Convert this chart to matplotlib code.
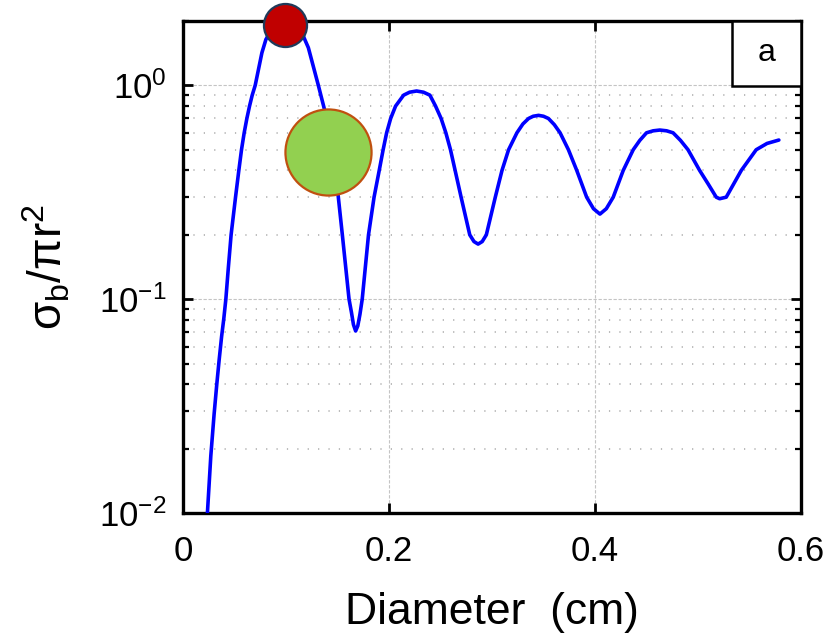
import numpy as np
import matplotlib
matplotlib.use("Agg")
import matplotlib.pyplot as plt
from matplotlib.patches import Rectangle
from matplotlib.ticker import FixedLocator, NullLocator, FixedFormatter, LogLocator

plt.rcParams['font.family'] = ['Liberation Sans', 'DejaVu Sans']
plt.rcParams['mathtext.fontset'] = 'custom'
plt.rcParams['mathtext.rm'] = 'Liberation Sans'
plt.rcParams['mathtext.it'] = 'Liberation Sans:italic'
plt.rcParams['mathtext.bf'] = 'Liberation Sans:bold'

# Backscatter curve (diameter in cm, sigma_b / pi r^2)
diameter = [0.0237, 0.0270, 0.0302, 0.0328, 0.0351, 0.0375, 0.0396, 0.0416, 0.0440,
            0.0467, 0.0510, 0.0542, 0.0568, 0.0594, 0.0620, 0.0646, 0.0672, 0.0701,
            0.0766, 0.0805, 0.0860, 0.0920, 0.0990, 0.1060, 0.1120, 0.1168, 0.1217,
            0.1314, 0.1369, 0.1410, 0.1450, 0.1480, 0.1508, 0.1547, 0.1612, 0.1635,
            0.1655, 0.1676, 0.1697, 0.1718, 0.1740, 0.1801, 0.1855, 0.1905, 0.1943,
            0.1977, 0.2016, 0.2064, 0.2142, 0.2200, 0.2268, 0.2335, 0.2397, 0.2452,
            0.2506, 0.2552, 0.2597, 0.2642, 0.2700, 0.2784, 0.2825, 0.2865, 0.2905,
            0.2945, 0.3032, 0.3097, 0.3161, 0.3242, 0.3300, 0.3355, 0.3400, 0.3452,
            0.3500, 0.3548, 0.3605, 0.3661, 0.3742, 0.3823, 0.3919, 0.3985, 0.4048,
            0.4110, 0.4177, 0.4274, 0.4371, 0.4435, 0.4500, 0.4565, 0.4629, 0.4695,
            0.4758, 0.4830, 0.4903, 0.5016, 0.5100, 0.5177, 0.5210, 0.5274, 0.5345,
            0.5420, 0.5565, 0.5670, 0.5785]
sigma = [0.0100, 0.0185, 0.0290, 0.0400, 0.0520, 0.0670, 0.0810, 0.1000, 0.1400,
         0.200, 0.300, 0.400, 0.500, 0.600, 0.700, 0.800, 0.900, 1.000,
         1.420, 1.640, 1.820, 1.920, 1.960, 1.920, 1.820, 1.700, 1.500,
         1.000, 0.787, 0.640, 0.490, 0.390, 0.300, 0.200, 0.100, 0.087,
         0.076, 0.071, 0.075, 0.085, 0.100, 0.200, 0.300, 0.400, 0.500,
         0.600, 0.700, 0.800, 0.900, 0.929, 0.941, 0.929, 0.900, 0.800,
         0.700, 0.600, 0.500, 0.400, 0.300, 0.200, 0.186, 0.181, 0.186,
         0.200, 0.300, 0.400, 0.500, 0.600, 0.660, 0.700, 0.717, 0.724,
         0.717, 0.700, 0.655, 0.600, 0.500, 0.400, 0.300, 0.265, 0.250,
         0.265, 0.300, 0.400, 0.500, 0.553, 0.600, 0.613, 0.618, 0.613,
         0.600, 0.553, 0.500, 0.400, 0.345, 0.300, 0.295, 0.300, 0.345,
         0.400, 0.500, 0.535, 0.555]

# Overlaid circles (drop sizes)
red_dot = (0.0993, 1.91)
green_dot = (0.1409, 0.49)

x_ticks = [0, 0.2, 0.4, 0.6]
x_labels = ['0', '0.2', '0.4', '0.6']
y_ticks = [1e-2, 1e-1, 1e0]
y_labels = [r'$\mathregular{10^{-2}}$', r'$\mathregular{10^{-1}}$', r'$\mathregular{10^{0}}$']

fig = plt.figure(figsize=(8.3, 6.39), dpi=100)
ax = fig.add_axes([183 / 830, 1 - 513 / 639, (801 - 183) / 830, (513 - 21) / 639])

ax.plot(diameter, sigma, color='#0000ff', lw=2.6, zorder=3,
        solid_joinstyle='round', solid_capstyle='round')

ax.set_yscale('log')
ax.set_xlim(0, 0.6)
ax.set_ylim(0.01, 2.0)

ax.xaxis.set_major_locator(FixedLocator(x_ticks))
ax.xaxis.set_major_formatter(FixedFormatter(x_labels))
ax.xaxis.set_minor_locator(NullLocator())
ax.yaxis.set_major_locator(FixedLocator(y_ticks))
ax.yaxis.set_major_formatter(FixedFormatter(y_labels))
ax.yaxis.set_minor_locator(LogLocator(base=10, subs=np.arange(2, 10)))
ax.yaxis.set_minor_formatter(FixedFormatter([]))

ax.tick_params(which='both', direction='in', top=True, right=True, color='black')
ax.tick_params(which='major', length=7, width=2.0, labelsize=25)
ax.tick_params(which='minor', length=4.5, width=1.6)
ax.tick_params(axis='x', which='major', pad=16)
ax.tick_params(axis='y', which='major', pad=12)

for s in ax.spines.values():
    s.set_linewidth(2.4)

ax.grid(True, which='major', color='#c4c4c4', linestyle=(0, (3, 1.5)), lw=0.8)
ax.grid(True, which='minor', axis='y', color='#a8a8a8', linestyle=(0, (0.8, 6.0)), lw=1.1)
ax.set_axisbelow(True)

ax.set_xlabel('Diameter  (cm)', fontsize=32, labelpad=17)
ax.set_ylabel(r'$\mathregular{σ_b/πr^2}$', fontsize=33, labelpad=19)

ax.plot([red_dot[0]], [red_dot[1]], 'o', ms=31, mfc='#c00000', mec='#1f3a5a', mew=1.6,
        clip_on=False, zorder=6)
ax.plot([green_dot[0]], [green_dot[1]], 'o', ms=62, mfc='#92d050', mec='#c0500f', mew=1.6,
        clip_on=False, zorder=6)

# Panel label box in the upper right corner
ax.add_patch(Rectangle((0.888, 0.868), 0.112, 0.132, transform=ax.transAxes,
                       facecolor='white', edgecolor='black', lw=1.8, zorder=7, clip_on=False))
ax.text(0.944, 0.934, 'a', transform=ax.transAxes, ha='center', va='center',
        fontsize=23, zorder=8)

fig.savefig('out.png', dpi=100)
